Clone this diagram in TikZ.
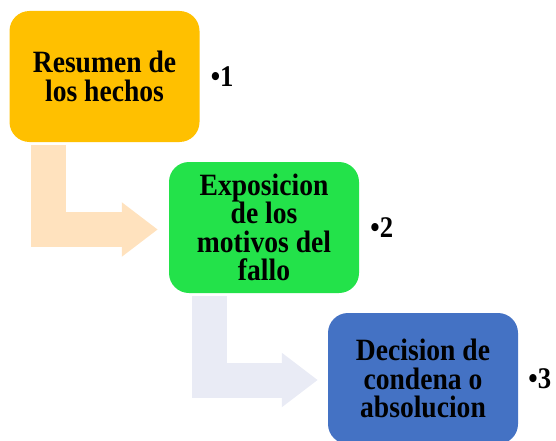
\documentclass[tikz,border=0pt]{standalone}
\usepackage{fontspec}
\setmainfont[FakeStretch=0.89]{Liberation Serif}
\usetikzlibrary{positioning,arrows.meta,calc}

\definecolor{oro}{HTML}{FFC000}
\definecolor{verde}{HTML}{23E24A}
\definecolor{azul}{HTML}{4472C4}
\definecolor{durazno}{HTML}{FFE2BE}
\definecolor{gris}{HTML}{E9EBF5}

\tikzset{
  caja/.style={rounded corners=20pt,minimum width=190pt,minimum height=131pt,
    align=center,inner sep=0pt,
    font=\bfseries\fontsize{31}{28.5}\selectfont},
  numero/.style={inner sep=0pt,font=\bfseries\fontsize{30}{28.5}\selectfont},
  flecha/.style={line width=35pt,line join=miter,
    -{Triangle[length=36pt,width=52pt]}}
}

\begin{document}
\begin{tikzpicture}[x=1pt,y=-1pt]
\useasboundingbox (0,0) rectangle (556,441);

\node[caja,fill=oro] (R) at (104.5,76.5) {Resumen de\\los hechos};
\node[caja,fill=verde] (E) at (264,227.5) {Exposicion\\de los\\motivos del\\fallo};
\node[caja,fill=azul] (D) at (423,378.5) {Decision de\\condena o\\absolucion};

\node[numero,right=11pt of R] (n1) {•1};
\node[numero,right=11pt of E] (n2) {•2};
\node[numero,right=10pt of D] (n3) {•3};

\draw[flecha,durazno] ($(R.south west)+(39.5pt,-3pt)$) |- ([shift={(-11pt,-2pt)}]E.west);
\draw[flecha,gris] ($(E.south west)+(40.5pt,-3pt)$) |- ([shift={(-10pt,-1.5pt)}]D.west);

\end{tikzpicture}
\end{document}
